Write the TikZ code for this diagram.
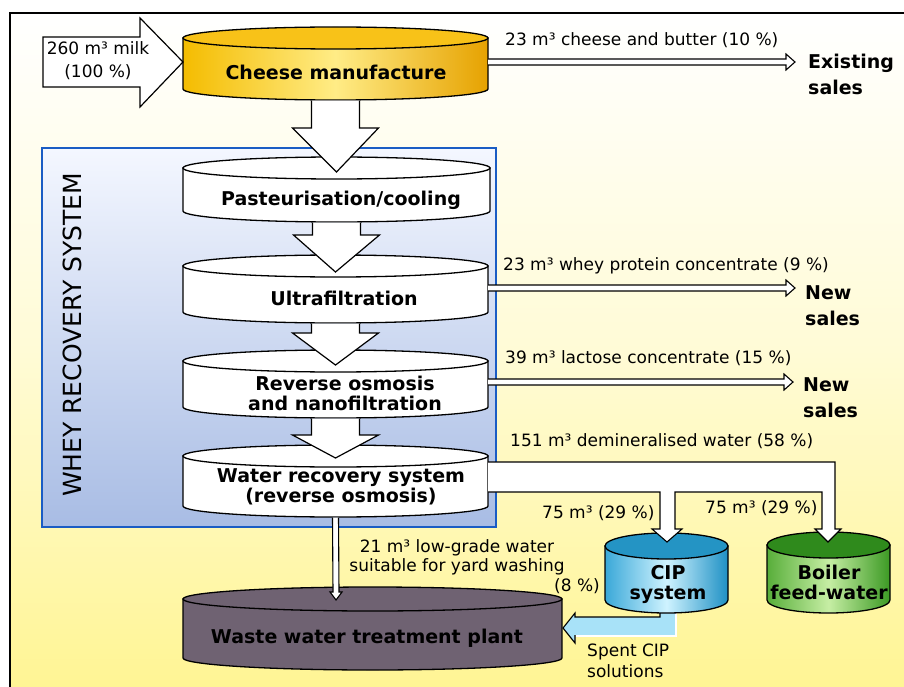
\documentclass[tikz,border=0pt]{standalone}
\usepackage{fontspec}
\setmainfont{DejaVu Sans}
\usepackage{tikz}
\usetikzlibrary{calc,positioning}

\definecolor{bgyellow}{HTML}{FFF594}
\definecolor{bgmid}{HTML}{FFFBD6}
\definecolor{wrsblue}{HTML}{1A5CC4}
\definecolor{wrstop}{HTML}{F4F7FF}
\definecolor{wrsbot}{HTML}{A8BCE4}
\definecolor{goldL}{HTML}{F4BC00}
\definecolor{goldM}{HTML}{FFEC86}
\definecolor{goldR}{HTML}{E6A200}
\definecolor{goldT}{HTML}{F8C218}
\definecolor{waste}{HTML}{6F6272}
\definecolor{cipL}{HTML}{3AA8D8}
\definecolor{cipM}{HTML}{CFF3FF}
\definecolor{cipR}{HTML}{1E90C4}
\definecolor{cipT}{HTML}{2494C4}
\definecolor{boiL}{HTML}{58AE3A}
\definecolor{boiM}{HTML}{C6EEA4}
\definecolor{boiR}{HTML}{3C9A24}
\definecolor{boiT}{HTML}{2F8A1C}
\definecolor{spentblue}{HTML}{A8E2F8}

\begin{document}
\begin{tikzpicture}[x=1pt,y=-1pt,
    lbl/.style={font=\fontsize{17}{19}\selectfont,inner sep=0pt},
    tanktext/.style={font=\bfseries\fontsize{19}{20}\selectfont,align=center,inner sep=0pt},
    sales/.style={font=\bfseries\fontsize{19}{26}\selectfont,align=left,inner sep=0pt},
    blockarr/.style={fill=white,draw=black,line width=1.2pt},
    thinarr/.style={fill=white,draw=black,line width=1.1pt},
    tank/.style={draw=black,line width=1.3pt}]

  \useasboundingbox (0,0) rectangle (904,687);
  \fill[white] (0,0) rectangle (904,687);
  % background and frame
  \shade[top color=white,bottom color=bgyellow,middle color=bgmid] (10,13) rectangle (904,687);
  \draw[line width=2pt] (10,687) -- (10,13) -- (904,13);

  % whey recovery box
  \shade[top color=wrstop,bottom color=wrsbot] (42,148) rectangle (496,527);
  \draw[wrsblue,line width=2.5pt] (42,148) rectangle (496,527);
  \node[rotate=90,font=\fontsize{25}{25}\selectfont,inner sep=0pt] (whey) at (72,335) {WHEY RECOVERY SYSTEM};

  % spent CIP solutions
  \coordinate (wwtp-r) at (563,628);
  \fill[spentblue] (660,600) -- (660,617) -- (575,617) -- (575,613) -- (wwtp-r) -- (575,643) -- (575,635) -- (675,635) -- (675,600) -- cycle;
  \draw[line width=1.1pt] (660,600) -- (660,617) -- (575,617) -- (575,613) -- (wwtp-r) -- (575,643) -- (575,635);
  \draw[white,line width=1.3pt] (576,636) -- (676,636) -- (676,606);

  % tanks
  \foreach \n/\cx/\w/\t/\b/\e/\cl/\cm/\cr/\ct in {
      cheese/335.5/152.5/38/89/11/goldL/goldM/goldR/goldT,
      past/336.5/153.5/168/211/11/white/white/white/white,
      ultra/335.5/152.5/266/312/11/white/white/white/white,
      ro/335.5/152.5/361/407/11/white/white/white/white,
      wrs/335.5/152.5/456/506/11/white/white/white/white,
      wwtp/372.5/189.5/599/658/12/waste/waste/waste/waste,
      cip/666.5/61.5/546/600/13/cipL/cipM/cipR/cipT,
      boiler/828.5/61.5/545/600/13/boiL/boiM/boiR/boiT} {
    \draw[tank,left color=\cl,right color=\cr,middle color=\cm]
      ({\cx-\w},\t) -- ({\cx-\w},\b) arc[start angle=180,end angle=0,x radius=\w,y radius=\e] -- ({\cx+\w},\t) -- cycle;
    \draw[tank,fill=\ct] (\cx,\t) ellipse[x radius=\w,y radius=\e];
    \coordinate (\n-top) at (\cx,{\t-\e});
    \coordinate (\n-bot) at (\cx,{\b+\e});
  }

  % milk in
  \coordinate (cheese-l) at (183,62);
  \filldraw[blockarr] (43,37) -- (140,37) -- (140,18) -- (cheese-l) -- (140,107) -- (140,87) -- (43,87) -- cycle;
  \node[lbl,align=center,font=\fontsize{17}{23}\selectfont] (milk) at (98,61) {260 m³ milk\\(100 \%)};

  % flow down the line
  \foreach \u/\l/\yh/\d in {cheese/past/128/15,past/ultra/235/17,ultra/ro/333/15,ro/wrs/435/13} {
    \coordinate (hd) at (\u-bot |- 0,\yh);
    \filldraw[blockarr] ($(\u-bot)+(-24,0.6)$) -- ($(hd)+(-24,0)$) -- ($(hd)+(-43,0)$) -- ($(\l-top)+(0,\d)$)
      -- ($(hd)+(43,0)$) -- ($(hd)+(24,0)$) -- ($(\u-bot)+(24,0.6)$);
  }

  % products
  \coordinate (cheese-r) at (488,62);
  \coordinate (exist-tip) at (795,62);
  \coordinate (ultra-r) at (488,288);
  \coordinate (new1-tip) at (795,288);
  \coordinate (ro-r) at (488,382);
  \coordinate (new2-tip) at (793,382);
  \foreach \s/\e in {cheese-r/exist-tip,ultra-r/new1-tip,ro-r/new2-tip}
    \filldraw[thinarr] ($(\s)+(0,-3)$) -- ($(\e)+(-9,-3)$) -- ($(\e)+(-9,-8)$) -- (\e)
      -- ($(\e)+(-9,8)$) -- ($(\e)+(-9,3)$) -- ($(\s)+(0,3)$);
  \node[sales,anchor=north west] (exist) at (808,54) {Existing\\sales};
  \node[sales,anchor=north west] (new1) at (805,285) {New\\sales};
  \node[sales,anchor=north west] (new2) at (803,377) {New\\sales};
  \node[lbl,anchor=west] (cheeselbl) at (505,40) {23 m³ cheese and butter (10 \%)};
  \node[lbl,anchor=west] (wpclbl) at (503,266) {23 m³ whey protein concentrate (9 \%)};
  \node[lbl,anchor=west] (lactlbl) at (505,358) {39 m³ lactose concentrate (15 \%)};

  % demineralised water
  \coordinate (cip-in) at (667,542);
  \coordinate (boil-in) at (828,542);
  \filldraw[thinarr] (488,462) -- (835,462) -- (835,529) -- (841,529) -- (boil-in) -- (815,529) -- (822,529)
    -- (822,492) -- (675,492) -- (675,529) -- (682,529) -- (cip-in) -- (652,529) -- (660,529) -- (660,492) -- (488,492);
  \node[lbl,anchor=west] (deminlbl) at (510,441) {151 m³ demineralised water (58 \%)};
  \node[lbl,anchor=west] (ciplbl) at (542,513) {75 m³ (29 \%)};
  \node[lbl,anchor=west] (boillbl) at (705,508) {75 m³ (29 \%)};

  % low-grade water
  \coordinate (wwtp-in) at (336,600);
  \filldraw[thinarr] ($(wrs-bot)+(-3,0.6)$) -- ($(wwtp-in)+(-3,-8)$) -- ($(wwtp-in)+(-6,-8)$) -- (wwtp-in)
    -- ($(wwtp-in)+(6,-8)$) -- ($(wwtp-in)+(3,-8)$) -- ($(wrs-bot)+(3,0.6)$);
  \node[lbl,align=center] (lowlbl) at (457,557) {21 m³ low-grade water\\suitable for yard washing};
  \node[lbl,anchor=east] (eightlbl) at (600,586) {(8 \%)};
  \node[lbl,align=left,anchor=north west,font=\fontsize{17}{21}\selectfont] (spentlbl) at (587,644) {Spent CIP\\solutions};

  % tank labels
  \node[tanktext] (cheese) at (336,72) {Cheese manufacture};
  \node[tanktext] (past) at (341,200) {Pasteurisation/cooling};
  \node[tanktext] (ultra) at (344,298) {Ultrafiltration};
  \node[tanktext] (ro) at (345,393) {Reverse osmosis\\and nanofiltration};
  \node[tanktext] (wrs) at (341,487) {Water recovery system\\(reverse osmosis)};
  \node[tanktext] (wwtp) at (367,638) {Waste water treatment plant};
  \node[tanktext] (cip) at (668,584) {CIP\\system};
  \node[tanktext] (boiler) at (829,582) {Boiler\\feed-water};
\end{tikzpicture}
\end{document}
